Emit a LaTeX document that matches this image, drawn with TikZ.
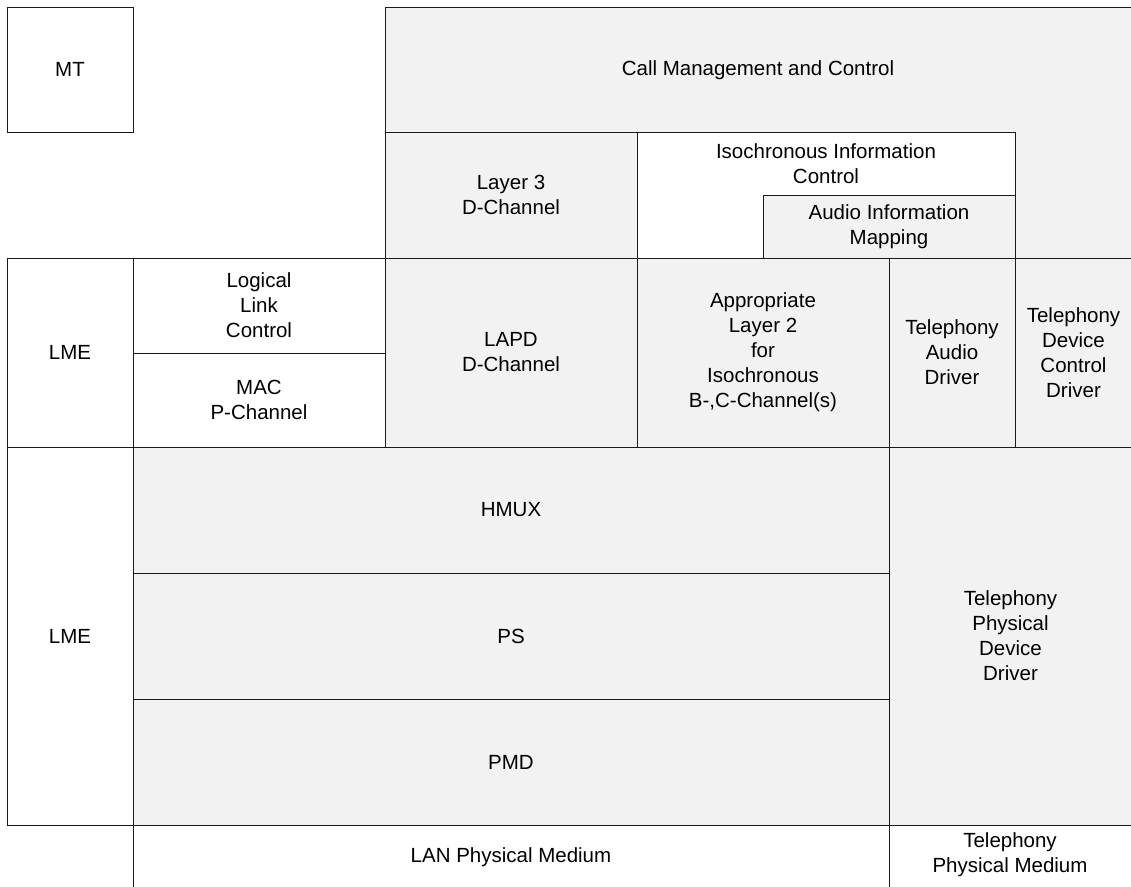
\documentclass[tikz,border=0pt]{standalone}
\usepackage{fontspec}
\setmainfont{Liberation Sans}
\definecolor{lg}{HTML}{F2F2F2}
\definecolor{ln}{HTML}{1A1A1A}
\begin{document}
\begin{tikzpicture}[x=1pt,y=-1pt,
  txt/.style={align=center,inner sep=0pt,font=\fontsize{20.5}{25}\selectfont},
  wbox/.style={txt,draw=ln,line width=1pt,fill=white,anchor=north west,outer sep=0pt},
  gbox/.style={wbox,fill=lg}]
\useasboundingbox (0,0) rectangle (1131,886);
% Call management L-shape
\filldraw[fill=lg,draw=ln,line width=1pt] (385,7) -- (1132,7) -- (1132,258) -- (1015,258) -- (1015,132) -- (385,132) -- cycle;
\node[txt] (cmc) at (758,70) {Call Management and Control};
\node[wbox,minimum width=126pt,minimum height=125pt] (mt) at (7,7) {MT};
\node[gbox,minimum width=252pt,minimum height=126pt] (l3) at (385,132) {Layer 3\\D-Channel};
\node[wbox,minimum width=378pt,minimum height=126pt] (iic) at (637,132) {};
\node[txt] (iict) at (826,164) {Isochronous Information\\Control};
\node[gbox,minimum width=252pt,minimum height=63pt] (aim) at (763,195) {Audio Information\\Mapping};
\node[wbox,minimum width=126pt,minimum height=189pt] (lme1) at (7,258) {LME};
\node[wbox,minimum width=252pt,minimum height=95pt] (llc) at (133,258) {Logical\\Link\\Control};
\node[wbox,minimum width=252pt,minimum height=94pt] (mac) at (133,353) {MAC\\P-Channel};
\node[gbox,minimum width=252pt,minimum height=189pt] (lapd) at (385,258) {LAPD\\D-Channel};
\node[gbox,minimum width=252pt,minimum height=189pt] (app) at (637,258) {Appropriate\\Layer 2\\for\\Isochronous\\B-,C-Channel(s)};
\node[gbox,minimum width=126pt,minimum height=189pt] (tad) at (889,258) {Telephony\\Audio\\Driver};
\node[gbox,minimum width=117pt,minimum height=189pt] (tdcd) at (1015,258) {Telephony\\Device\\Control\\Driver};
\node[wbox,minimum width=126pt,minimum height=378pt] (lme2) at (7,447) {LME};
\node[gbox,minimum width=756pt,minimum height=126pt] (hmux) at (133,447) {HMUX};
\node[gbox,minimum width=756pt,minimum height=126pt] (ps) at (133,573) {PS};
\node[gbox,minimum width=756pt,minimum height=126pt] (pmd) at (133,699) {PMD};
\node[gbox,minimum width=243pt,minimum height=378pt] (tpdd) at (889,447) {Telephony\\Physical\\Device\\Driver};
\node[txt] (lan) at (511,857) {LAN Physical Medium};
\node[txt] (tpm) at (1010,855) {Telephony\\Physical Medium};
\coordinate (b1) at (133,887);
\coordinate (b2) at (889,887);
\draw[draw=ln,line width=1pt] (pmd.south west) -- (b1);
\draw[draw=ln,line width=1pt] (pmd.south east) -- (b2);
\end{tikzpicture}
\end{document}
